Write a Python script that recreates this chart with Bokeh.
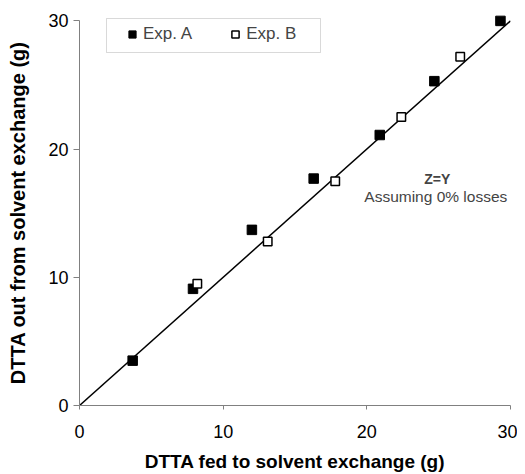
from bokeh.plotting import figure
from bokeh.models import Range1d, Label, Legend, LegendItem, FixedTicker, BoxAnnotation
from bokeh.embed import file_html
from bokeh.resources import INLINE

# Data
exp_a_x = [3.7, 7.9, 12.0, 16.3, 20.9, 24.7, 29.3]
exp_a_y = [3.5, 9.1, 13.7, 17.7, 21.1, 25.3, 30.0]
exp_b_x = [8.2, 13.1, 17.8, 22.4, 26.5]
exp_b_y = [9.5, 12.8, 17.5, 22.5, 27.2]
line_x = [0, 30]
line_y = [0, 30]
ticks = [0, 10, 20, 30]

FONT = "Liberation Sans"

p = figure(width=517, height=474, x_range=Range1d(0, 30), y_range=Range1d(0, 30.5),
           output_backend="svg", toolbar_location=None,
           min_border_left=79, min_border_right=7, min_border_top=14, min_border_bottom=68)
p.outline_line_color = None
p.grid.visible = False
p.background_fill_color = "white"

for ax in (p.xaxis[0], p.yaxis[0]):
    ax.ticker = FixedTicker(ticks=ticks)
    ax.bounds = (0, 30)
    ax.axis_line_color = "#808080"
    ax.axis_line_width = 1
    ax.major_tick_line_color = "#808080"
    ax.minor_tick_line_color = None
    ax.major_tick_in = 0
    ax.major_label_text_font = FONT
    ax.major_label_text_font_size = "18px"
    ax.major_label_text_color = "black"
    ax.axis_label_text_font = FONT
    ax.axis_label_text_font_style = "bold"
    ax.axis_label_text_font_size = "19px"
    ax.axis_label_text_color = "black"

p.xaxis.axis_label = "DTTA fed to solvent exchange (g)"
p.yaxis.axis_label = "DTTA out from solvent exchange  (g)"
p.yaxis.axis_label_text_font_size = "20px"
p.xaxis.major_tick_out = 4
p.xaxis.major_label_standoff = 15
p.xaxis.axis_label_standoff = 10
p.yaxis.major_tick_out = 6
p.yaxis.major_label_standoff = 5
p.yaxis.axis_label_standoff = 16

p.line(line_x, line_y, line_color="black", line_width=1.5)
ra = p.scatter(exp_a_x, exp_a_y, marker="square", size=9.5, fill_color="black", line_color="black")
rb = p.scatter(exp_b_x, exp_b_y, marker="square", size=8.5, fill_color="white",
               line_color="black", line_width=1.5)

# legend frame (screen units, relative to the plot frame)
p.add_layout(BoxAnnotation(left=27, right=241, bottom=353, top=387,
                           left_units="screen", right_units="screen",
                           bottom_units="screen", top_units="screen",
                           fill_color="white", fill_alpha=1,
                           line_color="#808080", line_width=1))

legend = Legend(items=[LegendItem(label="Exp. A", renderers=[ra]),
                       LegendItem(label="Exp. B", renderers=[rb])],
                location=(36, 353), orientation="horizontal",
                padding=8, margin=0, spacing=34,
                glyph_width=18, glyph_height=18, label_standoff=2,
                label_text_font=FONT, label_text_font_size="17px",
                border_line_alpha=0, background_fill_alpha=0)
p.add_layout(legend, "center")

p.add_layout(Label(x=24.9, y=17.7, text="Z=Y", text_align="center", text_baseline="middle",
                   text_font=FONT, text_font_style="bold", text_font_size="14px"))
p.add_layout(Label(x=24.8, y=16.3, text="Assuming 0% losses", text_align="center",
                   text_baseline="middle", text_font=FONT, text_font_size="15.5px"))

open("out.html", "w").write(file_html(p, INLINE))
